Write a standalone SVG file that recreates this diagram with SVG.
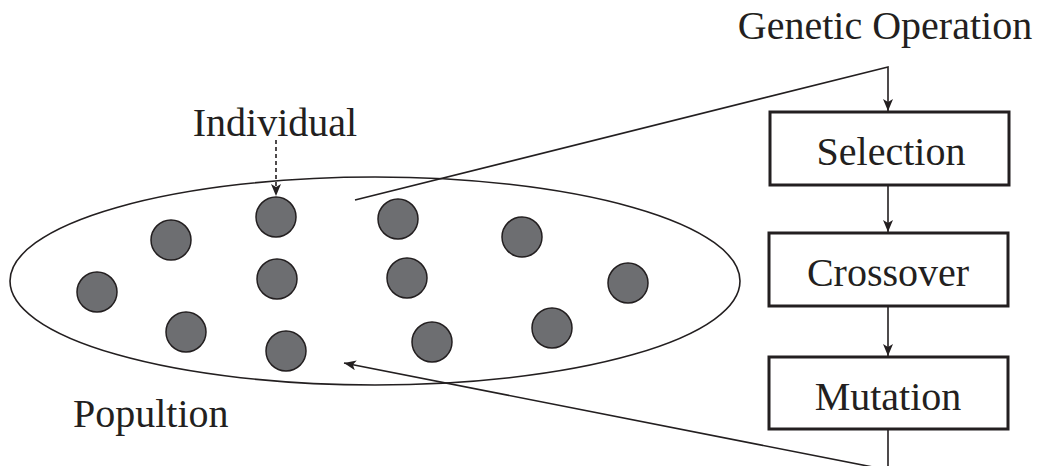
<svg xmlns="http://www.w3.org/2000/svg" width="1040" height="466" viewBox="0 0 1040 466">
  <style>
    .lbl { font-family: 'Liberation Serif', 'Times New Roman', serif; font-size: 40px; fill: #231f20; }
    .ind { fill: #6d6e71; stroke: #231f20; stroke-width: 1.5; }
    .box { fill: #ffffff; stroke: #231f20; stroke-width: 3; }
    .wire { fill: none; stroke: #231f20; stroke-width: 1.6; }
  </style>
  <defs>
    <marker id="arrow" viewBox="0 0 12 10" refX="12" refY="5" markerWidth="12" markerHeight="10" markerUnits="userSpaceOnUse" orient="auto">
      <path d="M0,0 L12,5 L0,10 L3,5 Z" fill="#231f20"/>
    </marker>
  </defs>

  <rect width="1040" height="466" fill="#ffffff"/>

  <!-- population -->
  <g id="population">
    <ellipse cx="375" cy="281" rx="365" ry="104" fill="none" stroke="#231f20" stroke-width="1.6"/>
    <text class="lbl" x="73" y="427">Popultion</text>
  </g>

  <!-- individuals -->
  <g id="individuals">
    <circle class="ind" cx="276" cy="217" r="20"/>
    <circle class="ind" cx="171" cy="240" r="20"/>
    <circle class="ind" cx="398" cy="219" r="20"/>
    <circle class="ind" cx="522" cy="237" r="20"/>
    <circle class="ind" cx="97" cy="292" r="20"/>
    <circle class="ind" cx="277" cy="279" r="20"/>
    <circle class="ind" cx="407" cy="278" r="20"/>
    <circle class="ind" cx="628" cy="283" r="20"/>
    <circle class="ind" cx="186" cy="332" r="20"/>
    <circle class="ind" cx="286" cy="351" r="20"/>
    <circle class="ind" cx="432" cy="342" r="20"/>
    <circle class="ind" cx="552" cy="328" r="20"/>
  </g>

  <g id="individual-label">
    <text class="lbl" x="275" y="136" text-anchor="middle">Individual</text>
  </g>

  <g id="genetic-operation-label">
    <text class="lbl" x="885" y="39" text-anchor="middle">Genetic Operation</text>
  </g>

  <!-- operator boxes -->
  <g id="selection">
    <rect class="box" x="770" y="112" width="239" height="73"/>
    <text class="lbl" x="891" y="165" text-anchor="middle">Selection</text>
  </g>
  <g id="crossover">
    <rect class="box" x="769" y="233" width="239" height="73"/>
    <text class="lbl" x="888" y="286" text-anchor="middle">Crossover</text>
  </g>
  <g id="mutation">
    <rect class="box" x="769" y="357" width="239" height="72"/>
    <text class="lbl" x="888" y="410" text-anchor="middle">Mutation</text>
  </g>

  <!-- connectors -->
  <g id="connectors">
    <line class="wire" x1="276" y1="140" x2="276" y2="196" stroke-dasharray="4,3" marker-end="url(#arrow)"/>
    <polyline class="wire" points="355,200 888,67 888,111" marker-end="url(#arrow)"/>
    <line class="wire" x1="888" y1="185" x2="888" y2="232" marker-end="url(#arrow)"/>
    <line class="wire" x1="888" y1="306" x2="888" y2="356" marker-end="url(#arrow)"/>
    <polyline class="wire" points="888,429 888,470 344,363" marker-end="url(#arrow)"/>
  </g>
</svg>
